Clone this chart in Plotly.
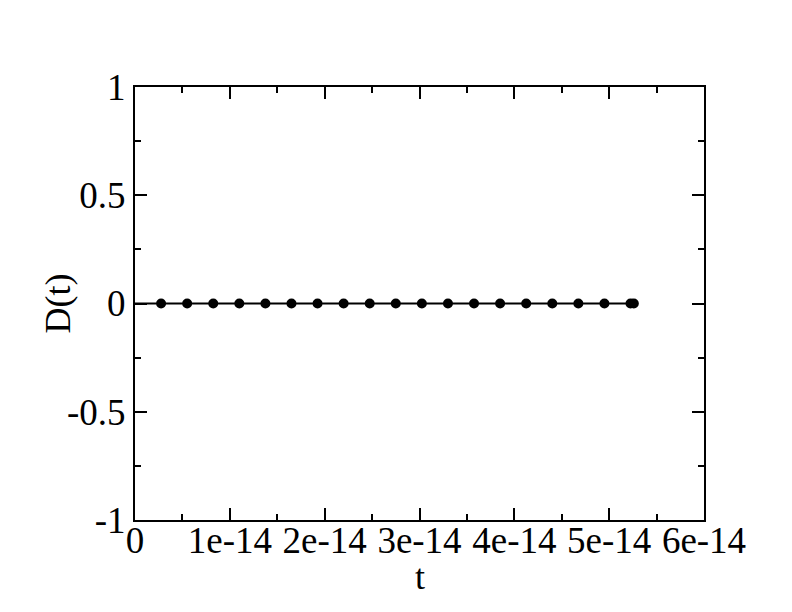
import plotly.graph_objects as go

# data
t_line = [0.0, 2.75e-15, 5.5e-15, 8.25e-15, 1.1e-14, 1.375e-14, 1.65e-14, 1.925e-14, 2.2e-14,
          2.475e-14, 2.75e-14, 3.025e-14, 3.3e-14, 3.575e-14, 3.85e-14, 4.125e-14, 4.4e-14,
          4.675e-14, 4.95e-14, 5.225e-14, 5.26e-14]
d_line = [0.0] * len(t_line)
t_pts = t_line[1:]
d_pts = d_line[1:]

x_ticks = [0, 1e-14, 2e-14, 3e-14, 4e-14, 5e-14, 6e-14]
x_labels = ["0", "1e-14", "2e-14", "3e-14", "4e-14", "5e-14", "6e-14"]
y_ticks = [-1, -0.5, 0, 0.5, 1]
y_labels = ["-1", "-0.5", "0", "0.5", "1"]

fig = go.Figure()
fig.add_trace(go.Scatter(x=t_line, y=d_line, mode="lines",
                         line=dict(color="black", width=2), showlegend=False))
fig.add_trace(go.Scatter(x=t_pts, y=d_pts, mode="markers",
                         marker=dict(color="black", size=10), showlegend=False))

serif = "Liberation Serif, Times New Roman, serif"
tickfont = dict(family=serif, size=37, color="black")
titlefont = dict(family=serif, size=36, color="black")

fig.update_layout(
    width=792, height=612,
    margin=dict(l=127, r=96, t=79, b=100),
    paper_bgcolor="white", plot_bgcolor="white",
    font=tickfont,
)
fig.update_xaxes(
    range=[0, 6e-14], tickvals=x_ticks, ticktext=x_labels,
    showgrid=False, zeroline=False,
    showline=True, linecolor="black", linewidth=2, mirror="ticks",
    ticks="inside", ticklen=12, tickwidth=2, tickcolor="black",
    minor=dict(ticks="inside", ticklen=6, tickwidth=2, tickcolor="black", dtick=5e-15, showgrid=False),
    tickfont=tickfont, ticklabelstandoff=-13,
)
fig.update_yaxes(
    range=[-1, 1], tickvals=y_ticks, ticktext=y_labels,
    showgrid=False, zeroline=False,
    showline=True, linecolor="black", linewidth=2, mirror="ticks",
    ticks="inside", ticklen=12, tickwidth=2, tickcolor="black",
    minor=dict(ticks="inside", ticklen=6, tickwidth=2, tickcolor="black", dtick=0.25, showgrid=False),
    tickfont=tickfont,
)
fig.add_annotation(text="t", xref="paper", yref="paper", x=0.5, y=0,
                   xanchor="center", yanchor="top", yshift=-35,
                   showarrow=False, font=titlefont)
fig.add_annotation(text="D(t)", xref="paper", yref="paper", x=0, y=0.5,
                   xanchor="center", yanchor="middle", xshift=-78, textangle=-90,
                   showarrow=False, font=titlefont)

fig.write_html("out.html")
